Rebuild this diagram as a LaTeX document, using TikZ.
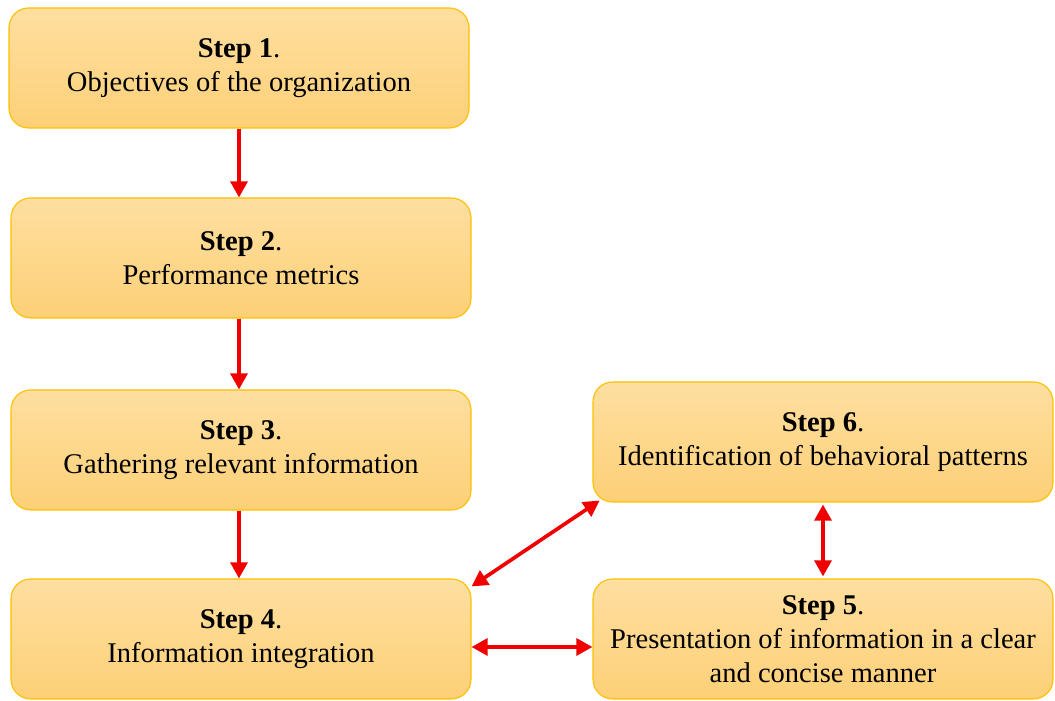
\documentclass[tikz,border=0pt]{standalone}
\usepackage{fontspec}
\setmainfont{Liberation Serif}
\usepackage{tikz}
\usetikzlibrary{arrows.meta,positioning}
\definecolor{orhaut}{HTML}{FEDFA0}
\definecolor{orbas}{HTML}{FDD077}
\definecolor{orbord}{HTML}{FFC000}
\definecolor{rougevif}{HTML}{F00000}
\tikzset{
  etape/.style={draw=orbord,line width=0.8pt,rounded corners=14pt,top color=orhaut,bottom color=orbas,
                align=center,font=\fontsize{20.3}{24}\selectfont,minimum width=11.5cm,minimum height=3cm,inner sep=2pt},
  lien/.style={{Triangle[length=4mm,width=4.2mm]}-{Triangle[length=4mm,width=4.2mm]},line width=2.6pt,color=rougevif},
  sens/.style={-{Triangle[length=4mm,width=4.2mm]},line width=2.6pt,color=rougevif},
}
\begin{document}
\begin{tikzpicture}
  \useasboundingbox (0,0) rectangle (26.375,17.525);
  \node[etape] (s1) at (5.975,15.825) {\textbf{Step 1}.\\Objectives of the organization};
  \node[etape] (s2) at (6.025,11.075) {\textbf{Step 2}.\\Performance metrics};
  \node[etape] (s3) at (6.025,6.275) {\textbf{Step 3}.\\Gathering relevant information};
  \node[etape] (s4) at (6.025,1.55) {\textbf{Step 4}.\\Information integration};
  \node[etape] (s6) at (20.575,6.475) {\textbf{Step 6}.\\Identification of behavioral patterns};
  \node[etape] (s5) at (20.575,1.55) {\textbf{Step 5}.\\Presentation of information in a clear\\and concise manner};
  \draw[sens] (s1.south)--(s1.south|-s2.north); \draw[sens] (s2.south-|s1.south)--(s1.south|-s3.north);
  \draw[sens] (s3.south-|s1.south)--(s1.south|-s4.north);
  \draw[lien] ([yshift=-0.2cm]s4.north east)--([xshift=0.18cm,yshift=0.05cm]s6.south west);
  \draw[lien] ([yshift=-0.2cm]s4.east)--([yshift=-0.2cm]s5.west);
  \draw[lien] ([yshift=-0.05cm]s6.south)--([yshift=0.05cm]s5.north);
\end{tikzpicture}
\end{document}
